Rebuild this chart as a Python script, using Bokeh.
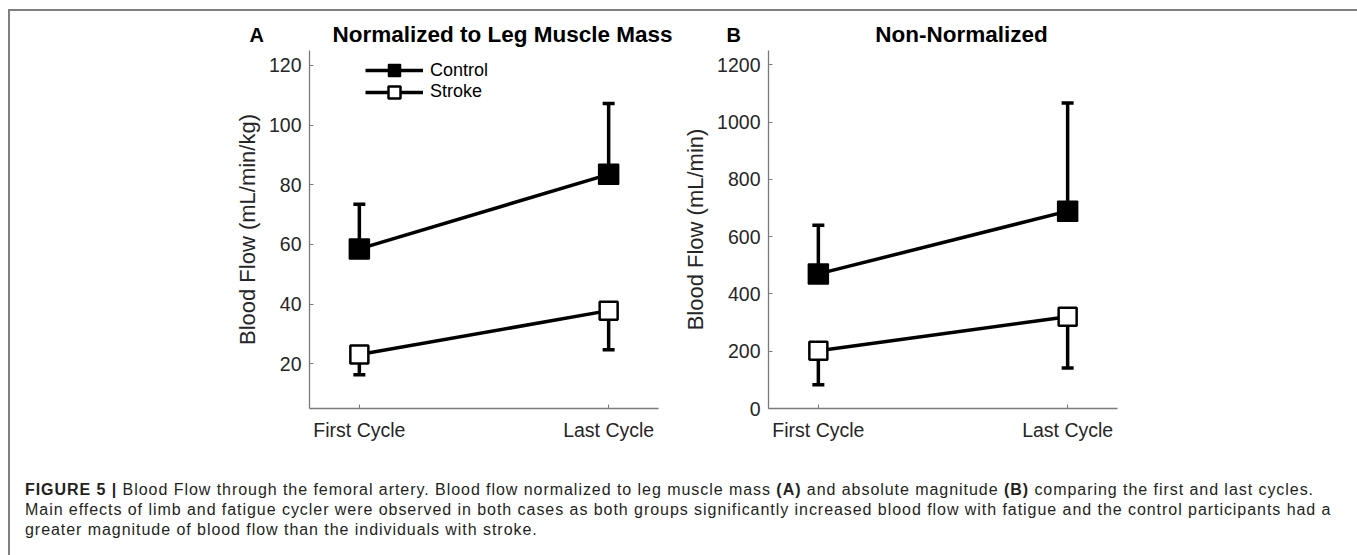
from bokeh.plotting import figure
from bokeh.models import (Range1d, FixedTicker, Whisker, ColumnDataSource, Label,
                          Legend, LegendItem, Div, TeeHead)
from bokeh.layouts import row, column
from bokeh.embed import file_html
from bokeh.resources import INLINE

# ---------------- data ----------------
cycles = ["First Cycle", "Last Cycle"]

a_control = [58.5, 83.5]
a_control_upper = [73.5, 107.2]
a_stroke = [23.1, 37.8]
a_stroke_lower = [16.3, 24.7]
a_yticks = [20, 40, 60, 80, 100, 120]

b_control = [470, 689]
b_control_upper = [640, 1067]
b_stroke = [202, 320]
b_stroke_lower = [83, 141]
b_yticks = [0, 200, 400, 600, 800, 1000, 1200]

panel_letters = ["A", "B"]
panel_titles = ["Normalized to Leg Muscle Mass", "Non-Normalized"]
y_labels = ["Blood Flow (mL/min/kg)", "Blood Flow (mL/min)"]
series_names = ["Control", "Stroke"]

caption_html = (
    '<b>FIGURE 5 |</b> Blood Flow through the femoral artery. Blood flow normalized to leg muscle mass '
    '<b>(A)</b> and absolute magnitude <b>(B)</b> comparing the first and last cycles.<br>'
    'Main effects of limb and fatigue cycler were observed in both cases as both groups significantly '
    'increased blood flow with fatigue and the control participants had a<br>'
    'greater magnitude of blood flow than the individuals with stroke.'
)

FONT = "Liberation Sans"
AXIS_COLOR = "#7a7a7a"
TEXT_COLOR = "#262626"

x_pos = [i + 1 for i in range(len(cycles))]

# ---------------- header strip with panel letters and titles ----------------
header = figure(width=1344, height=39, output_backend="svg", toolbar_location=None,
                x_range=Range1d(0, 1), y_range=Range1d(0, 1),
                x_axis_location=None, y_axis_location=None, title_location=None,
                min_border=0)
header.outline_line_color = None
header.xgrid.visible = False
header.ygrid.visible = False

for letter, lx, title, tx in ((panel_letters[0], 239, panel_titles[0], 492),
                              (panel_letters[1], 716, panel_titles[1], 951)):
    header.add_layout(Label(x=lx, y=16, x_units="screen", y_units="screen", text=letter,
                            text_font=FONT, text_font_style="bold", text_font_size="20px",
                            text_color="black", text_align="left",
                            text_baseline="alphabetic"))
    header.add_layout(Label(x=tx, y=16, x_units="screen", y_units="screen", text=title,
                            text_font=FONT, text_font_style="bold", text_font_size="22.5px",
                            text_color="black", text_align="center",
                            text_baseline="alphabetic"))


def make_panel(width, border_left, border_right, y_range, yticks, ctrl, ctrl_up,
               strk, strk_lo, ylabel, legend=False):
    p = figure(width=width, height=411, output_backend="svg", toolbar_location=None,
               x_range=Range1d(0.8, 2.2), y_range=y_range, title_location=None,
               min_border_left=border_left, min_border_right=border_right,
               min_border_top=0, min_border_bottom=53)
    p.outline_line_color = None
    p.xgrid.visible = False
    p.ygrid.visible = False
    p.background_fill_color = "white"
    p.border_fill_color = "white"

    for ax in (p.xaxis[0], p.yaxis[0]):
        ax.axis_line_color = AXIS_COLOR
        ax.axis_line_width = 1.3
        ax.major_tick_line_color = AXIS_COLOR
        ax.major_tick_in = 4
        ax.major_tick_out = 0
        ax.minor_tick_line_color = None
        ax.major_label_text_font = FONT
        ax.major_label_text_font_size = "19.5px"
        ax.major_label_text_color = TEXT_COLOR
        ax.axis_label_text_font = FONT
        ax.axis_label_text_font_size = "22px"
        ax.axis_label_text_font_style = "normal"
        ax.axis_label_text_color = TEXT_COLOR

    p.xaxis.ticker = FixedTicker(ticks=x_pos)
    p.xaxis.major_label_overrides = {x: c for x, c in zip(x_pos, cycles)}
    p.xaxis.major_label_standoff = 10
    p.yaxis.ticker = FixedTicker(ticks=yticks)
    p.yaxis.major_label_standoff = 8
    p.yaxis.axis_label = ylabel
    p.yaxis.axis_label_standoff = 6

    csrc = ColumnDataSource(dict(x=x_pos, y=ctrl, up=ctrl_up))
    ssrc = ColumnDataSource(dict(x=x_pos, y=strk, lo=strk_lo))

    p.add_layout(Whisker(base="x", lower="y", upper="up", source=csrc, dimension="height",
                         line_width=3.5, line_color="black",
                         upper_head=TeeHead(size=12, line_width=3.5, line_color="black"),
                         lower_head=None))
    p.add_layout(Whisker(base="x", lower="lo", upper="y", source=ssrc, dimension="height",
                         line_width=3.5, line_color="black",
                         lower_head=TeeHead(size=12, line_width=3.5, line_color="black"),
                         upper_head=None))

    cl = p.line("x", "y", source=csrc, line_width=3.5, line_color="black")
    sl = p.line("x", "y", source=ssrc, line_width=3.5, line_color="black")
    cs = p.scatter("x", "y", source=csrc, marker="square", size=20,
                   fill_color="black", line_color="black", line_width=1.5)
    ss = p.scatter("x", "y", source=ssrc, marker="square", size=18,
                   fill_color="white", line_color="black", line_width=2.5)

    if legend:
        for item, ypos in ((LegendItem(label=series_names[0], renderers=[cl, cs]), 323),
                           (LegendItem(label=series_names[1], renderers=[sl, ss]), 301.5)):
            lg = Legend(items=[item], location=(56, ypos), glyph_width=58, glyph_height=30,
                        padding=0, margin=0, border_line_color=None,
                        background_fill_alpha=0, label_standoff=7,
                        label_text_font=FONT, label_text_font_size="18px",
                        label_text_color="black")
            p.add_layout(lg)
    return p


pA = make_panel(670, 299, 22, Range1d(5, 125), a_yticks, a_control, a_control_upper,
                a_stroke, a_stroke_lower, y_labels[0], legend=True)
pB = make_panel(674, 88, 237, Range1d(0, 1250), b_yticks, b_control, b_control_upper,
                b_stroke, b_stroke_lower, y_labels[1])

cap = Div(text='<div style="padding:14px 0 0 10px; font-family:\'Liberation Sans\'; '
               'font-size:16px; letter-spacing:0.95px; line-height:20px; color:#231f20; '
               'white-space:nowrap;">' + caption_html + '</div>',
          width=1344, height=92)

layout = column(header, row(pA, pB), cap, margin=(9, 0, 0, 8),
                styles={"border-top": "2px solid #808080",
                        "border-left": "2px solid #808080",
                        "border-right": "2px solid #808080"})

open("out.html", "w").write(file_html(layout, INLINE))
